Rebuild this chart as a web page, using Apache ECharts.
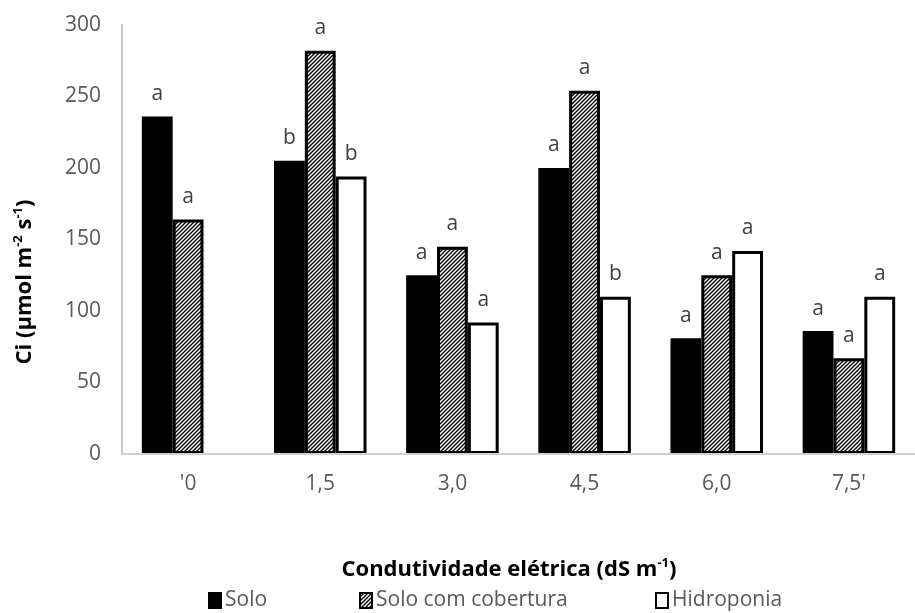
<!DOCTYPE html>
<html>
<head>
<meta charset="utf-8">
<script src="https://cdn.jsdelivr.net/npm/echarts@6/dist/echarts.min.js"></script>
<style>html,body{margin:0;padding:0;background:#fff;}#c{width:915px;height:613px;}</style>
</head>
<body>
<div id="c"></div>
<script>
const categories = ["'0", "1,5", "3,0", "4,5", "6,0", "7,5'"];
const solo = [236, 205, 125, 200, 81, 86];
const soloCobertura = [164, 282, 145, 254, 125, 67];
const hidroponia = [null, 194, 92, 110, 142, 110];
const letrasSolo = ['a', 'b', 'a', 'a', 'a', 'a'];
const letrasCobertura = ['a', 'a', 'a', 'a', 'a', 'a'];
const letrasHidroponia = ['', 'b', 'a', 'b', 'a', 'a'];
const yTicks = [0, 50, 100, 150, 200, 250, 300];

const FONT = '"Open Sans", "Noto Sans", sans-serif';

function hatchPattern() {
  const s = 4;
  const c = document.createElement('canvas');
  c.width = s; c.height = s;
  const g = c.getContext('2d');
  g.fillStyle = '#fff';
  g.fillRect(0, 0, s, s);
  g.strokeStyle = '#000';
  g.lineWidth = 1.4;
  g.beginPath();
  g.moveTo(-1, s + 1); g.lineTo(s + 1, -1);
  g.moveTo(-1, 1); g.lineTo(1, -1);
  g.moveTo(s - 1, s + 1); g.lineTo(s + 1, s - 1);
  g.stroke();
  return c;
}
const hatch = { image: hatchPattern(), repeat: 'repeat' };

function labelFor(letters) {
  return {
    show: true,
    position: 'top',
    distance: 12,
    fontFamily: FONT,
    fontSize: 21,
    color: '#404040',
    formatter: p => letters[p.dataIndex] || ''
  };
}

const chart = echarts.init(document.getElementById('c'), null, { renderer: 'canvas' });
const legendBase = {
  top: 590,
  padding: 0,
  itemWidth: 12,
  itemHeight: 15,
  icon: 'rect',
  selectedMode: false,
  textStyle: { fontFamily: FONT, fontSize: 21, color: '#595959', padding: [0, 0, 0, -1] }
};
chart.setOption({
  animation: false,
  backgroundColor: '#fff',
  grid: { left: 122, top: 25, bottom: 159, right: -13, containLabel: false },
  xAxis: {
    type: 'category',
    data: categories,
    axisLine: { show: true, lineStyle: { color: '#d0d0d0', width: 2 } },
    axisTick: { show: false },
    axisLabel: { fontFamily: FONT, fontSize: 21, color: '#595959', margin: 20 },
    z: 3
  },
  yAxis: {
    type: 'value',
    min: 0, max: 300, interval: 50,
    axisLine: { show: true, lineStyle: { color: '#c8c8c8', width: 2 } },
    axisTick: { show: false },
    splitLine: { show: false },
    axisLabel: {
      fontFamily: FONT, fontSize: 21, color: '#595959', margin: 21,
      formatter: v => yTicks.includes(v) ? String(v) : ''
    }
  },
  legend: [
    Object.assign({}, legendBase, { left: 208, data: ['Solo'] }),
    Object.assign({}, legendBase, { left: 359, data: ['Solo com cobertura'] }),
    Object.assign({}, legendBase, { left: 655, data: ['Hidroponia'] })
  ],
  series: [
    {
      name: 'Solo', type: 'bar', data: solo,
      barGap: '0%', barCategoryGap: '30%',
      itemStyle: { color: '#000', borderColor: '#000', borderWidth: 2 },
      label: labelFor(letrasSolo)
    },
    {
      name: 'Solo com cobertura', type: 'bar', data: soloCobertura,
      barGap: '0%', barCategoryGap: '30%',
      itemStyle: { color: hatch, borderColor: '#000', borderWidth: 3 },
      label: labelFor(letrasCobertura)
    },
    {
      name: 'Hidroponia', type: 'bar', data: hidroponia,
      barGap: '0%', barCategoryGap: '30%',
      itemStyle: { color: '#fff', borderColor: '#000', borderWidth: 3 },
      label: labelFor(letrasHidroponia)
    }
  ],
  graphic: [
    {
      type: 'text',
      x: 25, y: 282,
      rotation: Math.PI / 2,
      style: {
        text: '{t|Ci (µmol m}{s|-2}{t| s}{s|-1}{t|)}',
        align: 'center', verticalAlign: 'middle',
        rich: {
          t: { fontFamily: FONT, fontSize: 22, fontWeight: 'bold', fill: '#000', lineHeight: 26 },
          s: { fontFamily: FONT, fontSize: 13, fontWeight: 'bold', fill: '#000', verticalAlign: 'top', lineHeight: 26 }
        }
      }
    },
    {
      type: 'text',
      x: 509, y: 570,
      style: {
        text: '{t|Condutividade elétrica (dS m}{s|-1}{t|)}',
        align: 'center', verticalAlign: 'middle',
        rich: {
          t: { fontFamily: FONT, fontSize: 22, fontWeight: 'bold', fill: '#000', lineHeight: 26 },
          s: { fontFamily: FONT, fontSize: 13, fontWeight: 'bold', fill: '#000', verticalAlign: 'top', lineHeight: 26 }
        }
      }
    }
  ]
});
</script>
</body>
</html>
